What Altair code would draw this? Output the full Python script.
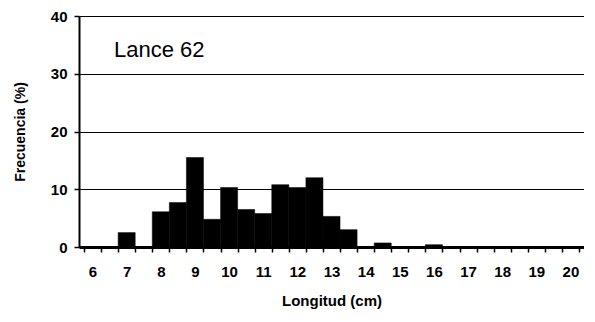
import altair as alt
import pandas as pd

# Length classes (cm) and frequencies (%)
longitud = [6, 6.5, 7, 7.5, 8, 8.5, 9, 9.5, 10, 10.5, 11, 11.5, 12, 12.5,
            13, 13.5, 14, 14.5, 15, 15.5, 16, 16.5, 17, 17.5, 18, 18.5, 19, 19.5, 20]
frecuencia = [0, 0, 2.5, 0, 6.1, 7.7, 15.5, 4.8, 10.3, 6.5, 5.8, 10.8, 10.3, 12.0,
              5.3, 3.0, 0, 0.7, 0, 0, 0.4, 0, 0, 0, 0, 0, 0, 0, 0]
y_ticks = [0, 10, 20, 30, 40]
x_labels = [6, 7, 8, 9, 10, 11, 12, 13, 14, 15, 16, 17, 18, 19, 20]
anotacion = ["Lance  62"]

half = 0.25
edges = [v - half for v in longitud] + [longitud[-1] + half]
axis_values = sorted(set(edges + x_labels))

df = pd.DataFrame({"Longitud": longitud, "Frecuencia": frecuencia})
df_txt = pd.DataFrame({"t": anotacion})

FONT = "Liberation Sans"

bars = alt.Chart(df).transform_calculate(
    x0="datum.Longitud - 0.25", x1="datum.Longitud + 0.25"
).mark_bar(color="black", stroke="black", strokeWidth=0.5, orient="vertical").encode(
    x=alt.X("x0:Q",
            scale=alt.Scale(domain=[edges[0], edges[-1]], nice=False, zero=False),
            axis=alt.Axis(
                values=axis_values,
                labelExpr="datum.value % 1 == 0 ? format(datum.value, 'd') : ''",
                tickOpacity={"condition": {"test": "datum.value % 1 == 0", "value": 0}, "value": 1},
                labelOverlap=False,
                grid=False,
                tickSize=5, tickColor="black", tickWidth=1.5,
                domainColor="black", domainWidth=3,
                labelFont=FONT, labelFontSize=15, labelFontWeight="bold",
                labelColor="black", labelPadding=12,
                title="Longitud (cm)", titleFont=FONT, titleFontSize=15,
                titleFontWeight="bold", titleColor="black", titlePadding=14,
            )),
    x2="x1:Q",
    y=alt.Y("Frecuencia:Q",
            scale=alt.Scale(domain=[0, 40], nice=False),
            axis=alt.Axis(
                values=y_ticks, grid=True, gridColor="black", gridWidth=1.2,
                tickSize=5, tickColor="black", tickWidth=1.5,
                domainColor="black", domainWidth=2,
                labelFont=FONT, labelFontSize=15, labelFontWeight="bold",
                labelColor="black", labelPadding=7,
                title="Frecuencia (%)", titleFont=FONT, titleFontSize=14,
                titleFontWeight="bold", titleColor="black", titlePadding=23,
            )),
    y2=alt.datum(0),
)

txt = alt.Chart(df_txt).mark_text(
    font=FONT, fontSize=22, align="left", baseline="alphabetic", color="black"
).encode(text="t:N", x=alt.value(35), y=alt.value(41))

chart = alt.layer(bars, txt).properties(
    width=505, height=231,
    padding={"left": 5, "top": 1, "right": 0, "bottom": 2},
).configure_view(stroke="black", strokeWidth=2).configure(background="white")

chart.save("out.html", embed_options={"renderer": "svg", "actions": False})
